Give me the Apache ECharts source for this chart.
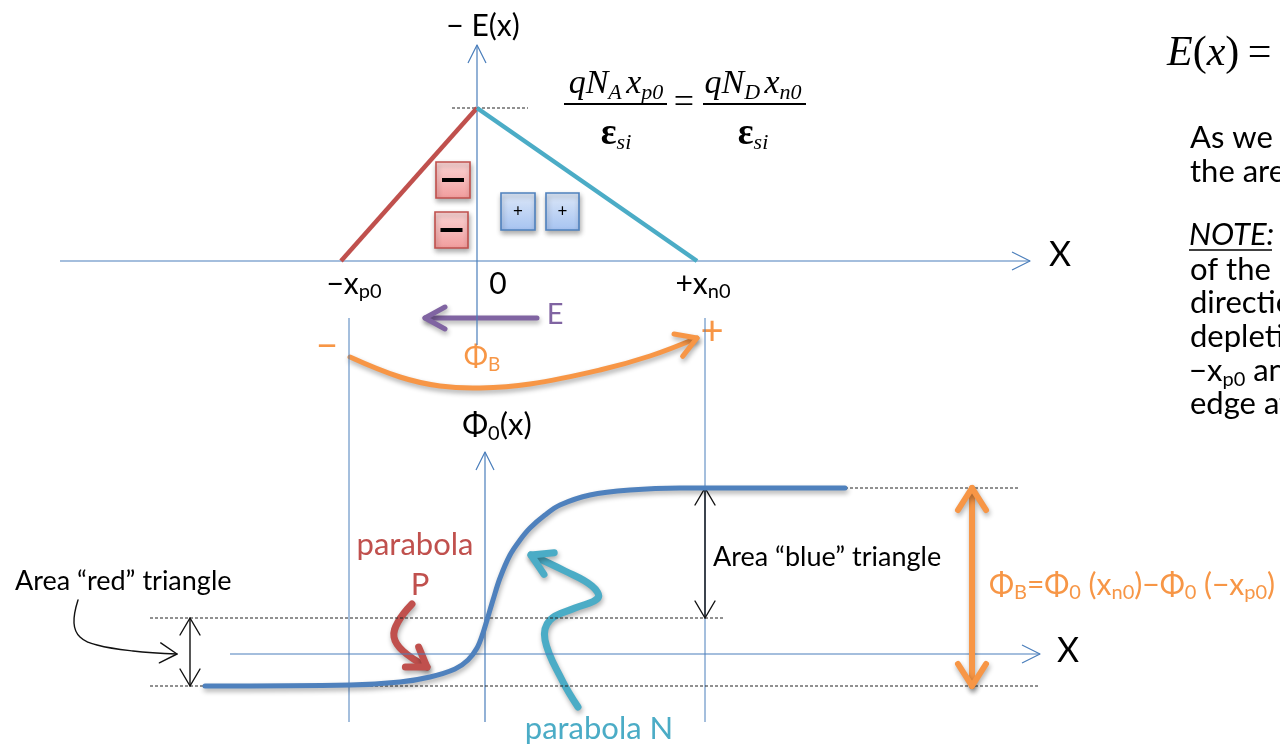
<!DOCTYPE html>
<html>
<head>
<meta charset="utf-8">
<script src="https://cdn.jsdelivr.net/npm/echarts@6/dist/echarts.min.js"></script>
<style>
html, body { margin: 0; padding: 0; background: #ffffff; }
#chart { width: 1280px; height: 744px; }
</style>
</head>
<body>
<div id="chart"></div>
<script>
// p-n junction in equilibrium: field profile -E(x) and built-in potential Phi0(x)

// depletion edges and peak field (arbitrary length / field units)
const X_P0 = 1.36;
const X_N0 = 2.20;
const E_MAX = 1.53;

// -E(x): linear rise across the p side, linear fall across the n side
const fieldX = [-X_P0, 0, X_N0];
const fieldE = [0, E_MAX, 0];

// Phi0(x): flat in the p bulk, parabola P, parabola N, flat in the n bulk
const potX = [-2.80, -1.35, -0.85, -0.55, -0.30, -0.17, -0.08, -0.02, 0.02, 0.08, 0.15, 0.25, 0.35, 0.45, 0.60, 0.75, 1.05, 1.45, 1.95, 2.20, 3.60];
const potY = [-0.32, -0.31, -0.28, -0.23, -0.15, -0.06, 0.06, 0.21, 0.34, 0.54, 0.76, 0.99, 1.14, 1.26, 1.39, 1.49, 1.59, 1.64, 1.66, 1.66, 1.66];

// potential levels: p-side edge, junction, n-side edge
const PHI_P = -0.32;
const PHI_J = 0.36;
const PHI_N = 1.66;

// position labels under the field axis
const tickValues = [-X_P0, 0, X_N0];
const tickLabels = ['{m|\u2212x}{s|p0}', '{m|0}', '{m|+x}{s|n0}'];

// ---------------------------------------------------------------- layout
const W = 1280, H = 744, UNIT = 100;
const TOP_ORIGIN = [477, 261];   // field plot origin (px)
const BOT_ORIGIN = [485, 654];   // potential plot origin (px)
const tickOffsets = [13, 21, 6];

const FONT = 'Lato, "Open Sans", "Noto Sans", sans-serif';
const SERIF = '"Liberation Serif", "DejaVu Serif", serif';
const AX = '#4A7EBB';
const RED = '#C0504D', CYAN = '#4BACC6', BLUE = '#4F81BD', ORANGE = '#F79646', PURPLE = '#8064A2';
const SHADOW = { shadowBlur: 5, shadowColor: 'rgba(0,0,0,0.32)', shadowOffsetX: 1, shadowOffsetY: 3 };

function xRange(o) { return { min: -o / UNIT, max: (W - o) / UNIT }; }
function yRange(o) { return { min: -(H - o) / UNIT, max: o / UNIT }; }

// open chevron head at 'tip', coming from 'from'
function headPts(tip, from, len, half) {
  const dx = tip[0] - from[0], dy = tip[1] - from[1];
  const d = Math.hypot(dx, dy) || 1;
  const ux = dx / d, uy = dy / d;
  const bx = tip[0] - ux * len, by = tip[1] - uy * len;
  return [[bx - uy * half, by + ux * half], tip, [bx + uy * half, by - ux * half]];
}

function arrowEls(pts, o) {
  const base = {
    stroke: o.color, lineWidth: o.width, fill: null,
    lineCap: o.cap || 'round', lineJoin: 'round'
  };
  if (o.shadow) Object.assign(base, o.shadow);
  const els = [{
    type: 'polyline',
    shape: { points: pts, smooth: o.smooth || 0 },
    style: Object.assign({}, base, { lineDash: o.dash || null })
  }];
  const n = pts.length;
  if (o.end) {
    els.push({ type: 'polyline', shape: { points: headPts(pts[n - 1], pts[n - 2], o.len, o.half) }, style: Object.assign({}, base) });
  }
  if (o.start) {
    els.push({ type: 'polyline', shape: { points: headPts(pts[0], pts[1], o.len, o.half) }, style: Object.assign({}, base) });
  }
  return els;
}

function shapeSeries(grid, shapes) {
  return {
    type: 'custom', xAxisIndex: grid, yAxisIndex: grid, silent: true, z: 3,
    data: shapes.map(s => s.pts[0]),
    encode: { x: 0, y: 1 },
    renderItem: (params, api) => {
      const s = shapes[params.dataIndex];
      return { type: 'group', children: arrowEls(s.pts.map(p => api.coord(p)), s) };
    }
  };
}

function subRich(size, color, italic) {
  return {
    m: { fontSize: size, fontFamily: FONT, fill: color, lineHeight: Math.round(size * 1.2), fontStyle: italic ? 'italic' : 'normal' },
    s: { fontSize: Math.round(size * 0.66), fontFamily: FONT, fill: color, lineHeight: Math.round(size * 0.48), verticalAlign: 'bottom', fontStyle: italic ? 'italic' : 'normal' }
  };
}

function text(x, y, str, size, color, extra) {
  return Object.assign({
    type: 'text', x, y, silent: true,
    style: Object.assign({
      text: str, fontSize: size, fontFamily: FONT, fill: color || '#000',
      align: 'center', verticalAlign: 'middle'
    }, extra || {})
  });
}

function richText(x, y, str, size, color, align, italic) {
  return {
    type: 'text', x, y, silent: true,
    style: { text: str, rich: subRich(size, color, italic), align: align || 'center', verticalAlign: 'middle' }
  };
}

// ---------------------------------------------------------------- field plot shapes
const topShapes = [
  { pts: [[-4.17, 0], [5.53, 0]], end: true, color: AX, width: 1.2, len: 18, half: 9, cap: 'butt' },
  { pts: [[0, -0.84], [0, 2.16]], end: true, color: AX, width: 1.2, len: 18, half: 9, cap: 'butt' },
  { pts: [[-0.25, E_MAX], [0.51, E_MAX]], dash: [3, 2], color: '#222', width: 1, cap: 'butt' }
];

// ---------------------------------------------------------------- potential plot shapes
const DOUBLE_BLACK = { start: true, end: true, color: '#111', width: 1.4, len: 17, half: 10 };
const botShapes = [
  { pts: [[-2.55, 0], [5.55, 0]], end: true, color: AX, width: 1.2, len: 18, half: 9, cap: 'butt' },
  { pts: [[0, -0.68], [0, 2.02]], end: true, color: AX, width: 1.2, len: 18, half: 9, cap: 'butt' },
  { pts: [[-X_P0, -0.68], [-X_P0, 3.36]], color: AX, width: 1, cap: 'butt' },
  { pts: [[X_N0, -0.68], [X_N0, 3.36]], color: AX, width: 1, cap: 'butt' },
  { pts: [[-3.35, PHI_P], [5.53, PHI_P]], dash: [3, 2], color: '#222', width: 1, cap: 'butt' },
  { pts: [[-3.35, PHI_J], [2.40, PHI_J]], dash: [3, 2], color: '#222', width: 1, cap: 'butt' },
  { pts: [[3.60, PHI_N], [5.35, PHI_N]], dash: [3, 2], color: '#222', width: 1, cap: 'butt' },
  Object.assign({ pts: [[-2.95, PHI_J], [-2.95, PHI_P]] }, DOUBLE_BLACK),
  Object.assign({ pts: [[X_N0, PHI_N], [X_N0, PHI_J]] }, DOUBLE_BLACK),
  { pts: [[4.87, PHI_N], [4.87, PHI_P]], start: true, end: true, color: ORANGE, width: 6, len: 22, half: 14, shadow: SHADOW }
];

// ---------------------------------------------------------------- annotations (px)
const annotations = [];
function addArrow(pts, o) { annotations.push({ type: 'group', silent: true, children: arrowEls(pts, o) }); }

addArrow([[537, 318], [425, 318]], { end: true, color: PURPLE, width: 5, len: 20, half: 11, shadow: SHADOW });
addArrow([[350, 357], [400, 377], [440, 386], [480, 388], [530, 384], [600, 370], [650, 356], [697, 338]],
  { end: true, smooth: 0.4, color: ORANGE, width: 5, len: 20, half: 12, shadow: SHADOW });
addArrow([[78, 600], [74, 623], [80, 637], [97, 645], [133, 651], [177, 654]],
  { end: true, smooth: 0.4, color: '#111', width: 1.4, len: 17, half: 10 });
addArrow([[412, 604], [398, 622], [394, 637], [403, 651], [427, 667]],
  { end: true, smooth: 0.4, color: RED, width: 7, len: 18, half: 12, shadow: SHADOW });
addArrow([[578, 707], [562, 680], [545, 640], [550, 620], [575, 608], [598, 598], [592, 586], [565, 571], [531, 555]],
  { end: true, smooth: 0.4, color: CYAN, width: 7, len: 20, half: 12, shadow: SHADOW });

// ionised acceptors (-) and donors (+)
function chargeBox(x, y, w, h, negative) {
  const fill = negative
    ? { type: 'linear', x: 0, y: 0, x2: 0, y2: 1, colorStops: [{ offset: 0, color: '#FBD6D6' }, { offset: 1, color: '#F19C9C' }] }
    : { type: 'linear', x: 0, y: 0, x2: 0, y2: 1, colorStops: [{ offset: 0, color: '#DDE8F8' }, { offset: 1, color: '#A6C3F1' }] };
  const children = [{
    type: 'rect', shape: { x, y, width: w, height: h },
    style: Object.assign({ fill, stroke: negative ? RED : BLUE, lineWidth: 1.6 }, SHADOW)
  }];
  if (negative) {
    children.push({ type: 'rect', shape: { x: x + w / 2 - 11, y: y + h / 2 - 2, width: 22, height: 4 }, style: { fill: '#000' } });
  } else {
    children.push(text(x + w / 2, y + h / 2, '+', 17, '#000'));
  }
  annotations.push({ type: 'group', silent: true, children });
}
chargeBox(436, 162, 34, 36, true);
chargeBox(435, 212, 33, 36, true);
chargeBox(501, 193, 34, 37, false);
chargeBox(546, 193, 33, 37, false);

// labels
annotations.push(text(483, 26, '\u2212 E(x)', 30, '#000'));
annotations.push(text(1060, 255, 'X', 34, '#000'));
annotations.push(text(1068, 651, 'X', 34, '#000'));
annotations.push(text(555, 315, 'E', 29, PURPLE));
annotations.push(text(327, 347, '\u2212', 38, ORANGE));
annotations.push(text(712, 332, '+', 40, ORANGE));
annotations.push(richText(482, 357, '{m|\u03A6}{s|B}', 29, ORANGE));
annotations.push(richText(497, 425, '{m|\u03A6}{s|0}{m|(x)}', 31, '#000'));
annotations.push(text(415, 545, 'parabola', 31, RED));
annotations.push(text(420, 585, 'P', 31, RED));
annotations.push(text(599, 729, 'parabola N', 31, CYAN));
annotations.push(text(15, 581, 'Area \u201Cred\u201D triangle', 27, '#000', { align: 'left' }));
annotations.push(text(713, 557, 'Area \u201Cblue\u201D triangle', 27, '#000', { align: 'left' }));
annotations.push(richText(989, 585, '{m|\u03A6}{s|B}{m|=\u03A6}{s|0}{m| (x}{s|n0}{m|)\u2212\u03A6}{s|0}{m| (\u2212x}{s|p0}{m|)}', 30, ORANGE, 'left'));

// field formula
const fracRich = {
  i: { fontSize: 34, fontFamily: SERIF, fontStyle: 'italic', fill: '#000', lineHeight: 40 },
  a: { fontSize: 22, fontFamily: SERIF, fontStyle: 'italic', fill: '#000', lineHeight: 16, verticalAlign: 'bottom' },
  e: { fontSize: 37, fontFamily: SERIF, fontWeight: 'bold', fill: '#000', lineHeight: 40 }
};
function frac(cx, num) {
  annotations.push({ type: 'text', x: cx, y: 84, silent: true, style: { text: num, rich: fracRich, align: 'center', verticalAlign: 'middle' } });
  annotations.push({ type: 'text', x: cx, y: 134, silent: true, style: { text: '{e|\u03B5}{a|si}', rich: fracRich, align: 'center', verticalAlign: 'middle' } });
}
frac(616, '{i|qN}{a|A\u2009}{i|x}{a|p0}');
frac(753, '{i|qN}{a|D\u2009}{i|x}{a|n0}');
annotations.push({ type: 'line', silent: true, shape: { x1: 564, y1: 104, x2: 667, y2: 104 }, style: { stroke: '#000', lineWidth: 2 } });
annotations.push({ type: 'line', silent: true, shape: { x1: 703, y1: 104, x2: 806, y2: 104 }, style: { stroke: '#000', lineWidth: 2 } });
annotations.push(text(684, 104, '=', 36, '#000', { fontFamily: SERIF }));

// side notes
annotations.push({
  type: 'text', x: 1167, y: 54, silent: true,
  style: {
    text: '{i|E}{r|(}{i|x}{r|)\u2009=}',
    rich: {
      i: { fontSize: 42, fontFamily: SERIF, fontStyle: 'italic', fill: '#000' },
      r: { fontSize: 42, fontFamily: SERIF, fill: '#000' }
    },
    align: 'left', verticalAlign: 'middle'
  }
});
const NOTE_SIZE = 31;
[[138, 'As we know'], [172, 'the area']].forEach(l =>
  annotations.push(text(1190, l[0], l[1], NOTE_SIZE, '#000', { align: 'left' })));
annotations.push(text(1189, 235, 'NOTE:', NOTE_SIZE, '#000', { align: 'left', fontStyle: 'italic' }));
annotations.push({ type: 'line', silent: true, shape: { x1: 1189, y1: 250, x2: 1272, y2: 250 }, style: { stroke: '#000', lineWidth: 1.6 } });
[[270, 'of the p'], [303, 'direction'], [337, 'depletion']].forEach(l =>
  annotations.push(text(1190, l[0], l[1], NOTE_SIZE, '#000', { align: 'left' })));
annotations.push(richText(1189, 371, '{m|\u2212x}{s|p0}{m| and}', NOTE_SIZE, '#000', 'left'));
annotations.push(text(1190, 404, 'edge at', NOTE_SIZE, '#000', { align: 'left' }));

// ---------------------------------------------------------------- chart
const chart = echarts.init(document.getElementById('chart'), null, { renderer: 'canvas' });
const topX = xRange(TOP_ORIGIN[0]), topY = yRange(TOP_ORIGIN[1]);
const botX = xRange(BOT_ORIGIN[0]), botY = yRange(BOT_ORIGIN[1]);

chart.setOption({
  animation: false,
  backgroundColor: '#ffffff',
  grid: [
    { left: 0, top: 0, width: W, height: H, show: false },
    { left: 0, top: 0, width: W, height: H, show: false }
  ],
  xAxis: [
    { type: 'value', gridIndex: 0, min: topX.min, max: topX.max, show: false },
    { type: 'value', gridIndex: 1, min: botX.min, max: botX.max, show: false }
  ],
  yAxis: [
    { type: 'value', gridIndex: 0, min: topY.min, max: topY.max, show: false },
    { type: 'value', gridIndex: 1, min: botY.min, max: botY.max, show: false }
  ],
  series: [
    shapeSeries(0, topShapes),
    shapeSeries(1, botShapes),
    {
      type: 'line', xAxisIndex: 0, yAxisIndex: 0, silent: true, z: 4, showSymbol: false,
      data: [[fieldX[0], fieldE[0]], [fieldX[1], fieldE[1]]],
      lineStyle: { color: RED, width: 4.5 }
    },
    {
      type: 'line', xAxisIndex: 0, yAxisIndex: 0, silent: true, z: 4, showSymbol: false,
      data: [[fieldX[1], fieldE[1]], [fieldX[2], fieldE[2]]],
      lineStyle: { color: CYAN, width: 4.5 }
    },
    {
      type: 'line', xAxisIndex: 1, yAxisIndex: 1, silent: true, z: 4, showSymbol: false, smooth: 0.35,
      data: potX.map((x, i) => [x, potY[i]]),
      lineStyle: Object.assign({ color: BLUE, width: 5, cap: 'round' }, SHADOW)
    },
    {
      type: 'custom', xAxisIndex: 0, yAxisIndex: 0, silent: true, z: 5,
      data: tickValues.map(v => [v, 0]),
      encode: { x: 0, y: 1 },
      renderItem: (params, api) => {
        const i = params.dataIndex;
        const p = api.coord([tickValues[i], 0]);
        return {
          type: 'text', x: p[0] + tickOffsets[i], y: p[1] + 23,
          style: { text: tickLabels[i], rich: subRich(30, '#000'), align: 'center', verticalAlign: 'middle' }
        };
      }
    }
  ],
  graphic: { elements: annotations }
});
</script>
</body>
</html>
